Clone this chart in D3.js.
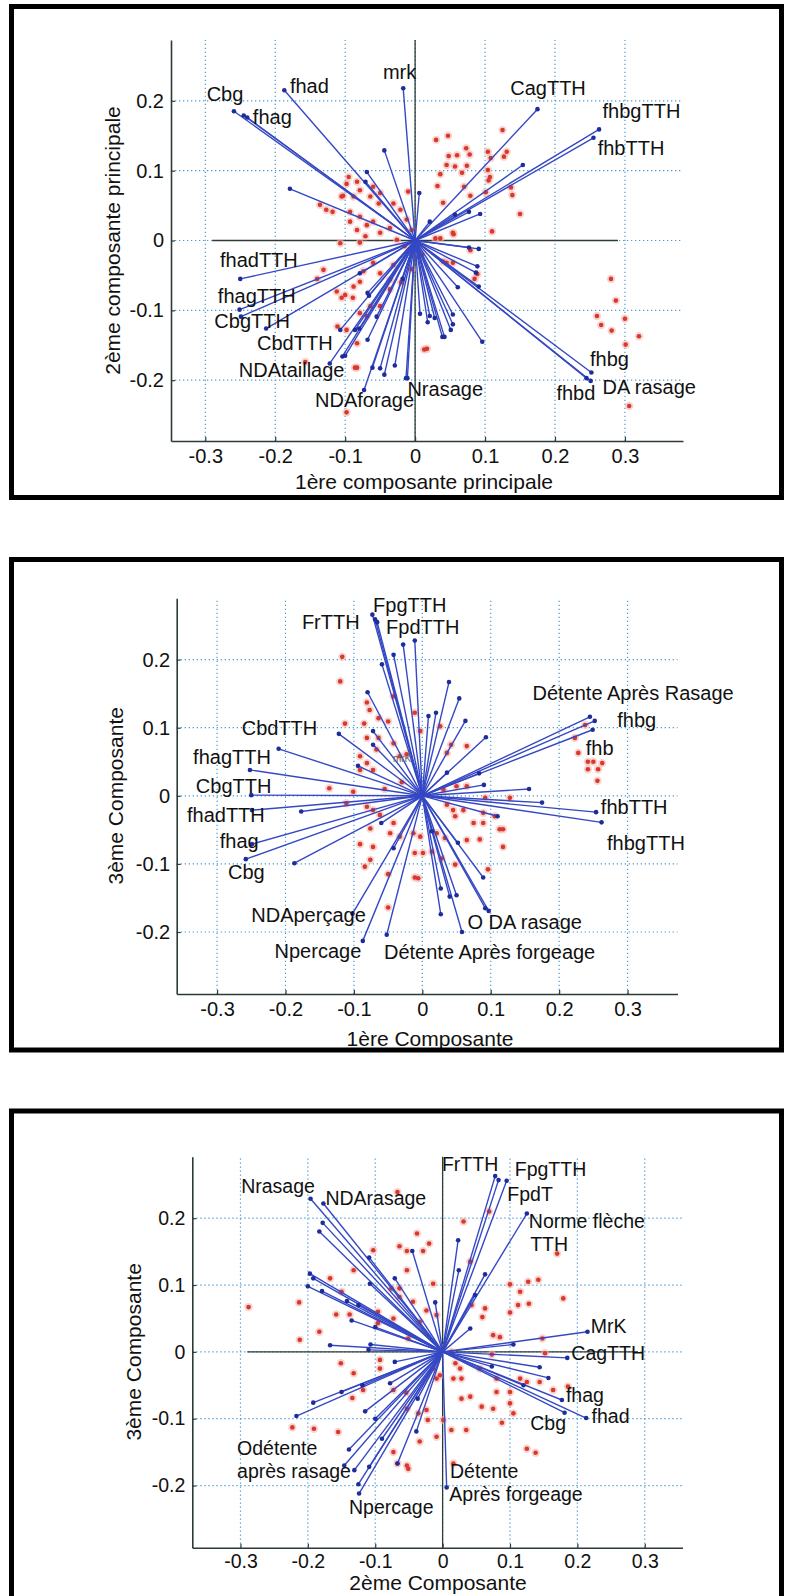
<!DOCTYPE html>
<html><head><meta charset="utf-8">
<script src="https://cdn.jsdelivr.net/npm/d3@7"></script>
<style>body{margin:0;background:#fff}svg{display:block}</style>
</head><body>
<svg id="c" width="786" height="1596"></svg>
<script>
// ---------- DATA ----------
const xTicks = [-0.3,-0.2,-0.1,0,0.1,0.2,0.3];
const yTicks = [-0.2,-0.1,0,0.1,0.2];

// Panel 1 : 1ère vs 2ème composante principale
const p1XLabel = "1ère composante principale";
const p1YLabel = "2ème composante principale";
const p1Vectors = [
[-0.259,0.185],[-0.245,0.179],[-0.240,0.176],[-0.187,0.215],[-0.017,0.218],[0.175,0.188],[0.263,0.159],[0.255,0.147],
[-0.044,0.129],[-0.069,0.098],[-0.071,0.084],[-0.179,0.074],[0.006,0.068],[0.093,0.038],[0.077,0.041],[0.154,0.108],[0.021,0.027],[0.057,0.037],
[-0.250,-0.055],[-0.251,-0.099],[-0.249,-0.109],[-0.213,-0.126],[-0.122,-0.176],[-0.073,-0.214],[-0.011,-0.197],
[0.252,-0.189],[0.245,-0.197],[0.251,-0.201],
[0.091,-0.012],[0.077,-0.010],[0.089,-0.037],[0.087,-0.046],[0.091,-0.066],[0.061,-0.067],[0.096,-0.145],[0.054,-0.106],[0.054,-0.120],[0.051,-0.128],[0.039,-0.138],[0.018,-0.117],[0.007,-0.105],[0.021,-0.108],[0.028,-0.111],[0.042,-0.138],
[-0.107,-0.128],[-0.104,-0.166],[-0.086,-0.128],[-0.080,-0.126],[-0.068,-0.142],[-0.068,-0.075],[-0.061,-0.182],[-0.050,-0.183],[-0.044,-0.192],[-0.029,-0.179],[-0.013,-0.197],[-0.066,-0.079],[-0.055,-0.109],[-0.100,-0.165],[-0.018,-0.055],[-0.079,-0.047]
];
const p1Points = [
[0.030,0.144],[0.047,0.150],[0.048,0.121],[0.060,0.122],[0.073,0.132],[0.078,0.123],[0.045,0.108],[0.057,0.106],[0.067,0.097],[0.074,0.107],[0.036,0.095],[0.032,0.078],[0.070,0.077],[0.040,0.054],[0.079,0.064],[0.104,0.127],[0.108,0.118],[0.125,0.158],[0.131,0.127],[0.127,0.120],[0.104,0.101],[0.107,0.091],[0.105,0.086],[0.101,0.069],[0.137,0.076],[0.139,0.065],[0.150,0.038],[0.110,0.013],[0.055,0.009],[0.036,0.003],
[-0.095,0.091],[-0.098,0.081],[-0.083,0.084],[-0.105,0.063],[-0.088,0.063],[-0.079,0.072],[-0.060,0.077],[-0.064,0.063],[-0.050,0.068],[-0.052,0.053],[-0.136,0.051],[-0.127,0.044],[-0.118,0.041],[-0.093,0.041],[-0.079,0.034],[-0.093,0.027],[-0.069,0.022],[-0.060,0.027],[-0.083,0.015],[-0.071,0.006],[-0.050,0.011],[-0.036,0.018],[-0.031,0.053],[-0.021,0.044],[-0.010,0.070],[-0.012,0.030],[-0.005,0.015],[-0.107,-0.004],[-0.079,-0.003],[-0.026,0.001],[-0.103,0.064],
[-0.131,-0.042],[-0.140,-0.055],[-0.105,-0.082],[-0.112,-0.073],[-0.088,-0.066],[-0.079,-0.059],[-0.074,-0.044],[-0.060,-0.032],[-0.050,-0.047],[-0.036,-0.056],[-0.031,-0.035],[-0.064,-0.094],[-0.050,-0.094],[-0.036,-0.070],[-0.098,-0.128],[-0.083,-0.147],[-0.083,-0.182],[-0.157,-0.174],[-0.098,-0.246],[-0.100,-0.078],[-0.089,-0.082],[-0.069,-0.108],[-0.111,-0.123],[-0.079,-0.104],[-0.005,-0.041],[-0.005,-0.018],[-0.086,-0.182],[-0.015,-0.008],[-0.020,-0.060],
[0.280,-0.055],[0.287,-0.086],[0.260,-0.108],[0.266,-0.121],[0.300,-0.112],[0.281,-0.129],[0.320,-0.137],[0.301,-0.149],[0.306,-0.237],[0.017,-0.155],[0.079,-0.014],[0.089,-0.048],[0.045,-0.032],[0.029,0.003],[0.054,0.011],[0.054,-0.032],[0.040,-0.030],[0.085,-0.055],[0.013,-0.156],[0.010,-0.020]
];
const p1Labels = [
["mrk",-0.046,0.231],["fhad",-0.179,0.211],["Cbg",-0.298,0.199],["fhag",-0.232,0.167],
["CagTTH",0.136,0.208],["fhbgTTH",0.268,0.175],["fhbTTH",0.261,0.123],
["fhadTTH",-0.279,-0.038],["fhagTTH",-0.282,-0.089],["CbgTTH",-0.287,-0.125],["CbdTTH",-0.226,-0.157],
["NDAtaillage",-0.252,-0.196],["NDAforage",-0.143,-0.238],["Nrasage",-0.011,-0.223],
["fhbg",0.250,-0.180],["fhbd",0.202,-0.229],["DA rasage",0.268,-0.220]
];

// Panel 2 : 1ère vs 3ème composante
const p2XLabel = "1ère Composante";
const p2YLabel = "3ème Composante";
const p2Vectors = [
[-0.073,0.266],[-0.069,0.259],[-0.066,0.255],[-0.011,0.228],[-0.028,0.222],[-0.042,0.207],[-0.059,0.193],[-0.080,0.152],
[0.039,0.167],[0.054,0.143],[0.063,0.110],[0.020,0.122],[0.009,0.117],[0.093,0.086],
[0.245,0.116],[0.252,0.110],[0.249,0.097],[0.083,0.033],[0.036,0.034],[0.156,0.010],[0.175,-0.010],[0.090,0.016],
[0.254,-0.024],[0.262,-0.039],
[-0.210,0.069],[-0.122,0.091],[-0.072,0.075],[-0.072,0.095],[-0.094,0.044],
[-0.252,0.038],[-0.250,0.001],[-0.249,-0.021],[-0.177,-0.023],
[-0.249,-0.071],[-0.258,-0.093],[-0.187,-0.099],
[-0.102,-0.173],[-0.087,-0.213],[-0.052,-0.204],
[0.058,-0.200],[0.097,-0.169],[0.092,-0.165],
[0.027,-0.174],[0.050,-0.146],[0.040,-0.148],[0.027,-0.136],[0.089,-0.120],[0.052,-0.069],[-0.042,-0.077],[0.014,-0.052],[-0.060,-0.040],[0.110,-0.030]
];
const p2Points = [
[-0.117,0.204],[-0.120,0.168],[-0.113,0.106],[-0.081,0.137],[-0.077,0.126],[-0.085,0.106],[-0.064,0.114],[-0.050,0.109],[-0.081,0.085],[-0.064,0.085],[-0.067,0.068],[-0.091,0.058],[-0.081,0.048],[-0.091,0.038],[-0.072,0.038],[-0.042,0.077],[-0.033,0.058],[-0.023,0.061],[0.026,0.102],[-0.003,0.095],[0.036,0.063],[0.065,0.073],[0.042,0.075],[0.050,0.014],[-0.042,0.146],[-0.011,0.122],
[-0.136,0.011],[-0.101,0.006],[-0.111,-0.011],[-0.081,-0.016],[-0.072,-0.021],[-0.062,-0.028],[-0.042,-0.040],[-0.076,-0.048],[-0.047,-0.055],[-0.033,-0.060],[-0.013,-0.055],[-0.003,-0.060],[-0.091,-0.071],[-0.072,-0.075],[-0.011,-0.084],[0.001,-0.084],[-0.076,-0.094],[-0.084,-0.104],[-0.050,-0.115],[-0.011,-0.120],[-0.006,-0.121],[-0.050,-0.164],[-0.008,-0.001],[-0.055,0.010],[-0.030,0.020],
[0.031,0.009],[0.065,0.014],[0.036,-0.013],[0.045,-0.021],[0.060,-0.021],[0.048,-0.030],[0.075,-0.040],[0.089,-0.025],[0.089,-0.040],[0.092,-0.003],[0.106,-0.030],[0.113,-0.049],[0.118,-0.049],[0.118,-0.075],[0.128,-0.003],[0.065,-0.065],[0.084,-0.064],[0.033,-0.062],[0.021,-0.055],[0.048,-0.101],[0.096,-0.108],[0.028,-0.092],[0.014,-0.082],
[0.223,0.085],[0.228,0.063],[0.242,0.050],[0.250,0.050],[0.242,0.039],[0.257,0.039],[0.263,0.048],[0.256,0.022],[0.238,0.104]
];
const p2Labels = [
["FrTTH",-0.176,0.245],["FpgTTH",-0.072,0.270],["FpdTTH",-0.053,0.237],
["Détente Après Rasage",0.161,0.140],["fhbg",0.285,0.101],["fhb",0.239,0.060],
["fhbTTH",0.261,-0.026],["fhbgTTH",0.270,-0.080],
["CbdTTH",-0.264,0.089],["fhagTTH",-0.335,0.046],["CbgTTH",-0.331,0.004],["fhadTTH",-0.344,-0.038],
["fhag",-0.296,-0.077],["Cbg",-0.284,-0.122],["NDAperçage",-0.250,-0.185],["Npercage",-0.216,-0.238],
["Détente Après forgeage",-0.056,-0.240],["O DA rasage",0.066,-0.196]
];
const p2SmallLabels = [["mrK",-0.043,0.050]];

// Panel 3 : 2ème vs 3ème composante
const p3XLabel = "2ème Composante";
const p3YLabel = "3ème Composante";
const p3Vectors = [
[-0.196,0.229],[-0.177,0.222],[-0.178,0.193],[-0.183,0.180],[-0.109,0.141],[-0.045,0.151],[-0.197,0.117],[-0.192,0.110],[-0.200,0.098],[-0.179,0.091],[-0.142,0.076],[-0.125,0.070],[-0.135,0.047],[-0.100,0.037],[-0.071,0.110],[-0.108,0.102],[-0.011,0.074],[-0.167,0.010],[-0.107,0.011],[-0.110,0.003],
[0.078,0.263],[0.083,0.257],[0.095,0.256],[0.125,0.207],[0.023,0.167],[0.024,0.122],[0.063,0.116],[0.048,0.085],[0.041,0.035],
[0.215,0.030],[0.105,0.011],[0.185,-0.009],[0.144,-0.023],[0.157,-0.039],[0.177,-0.072],[0.181,-0.091],[0.213,-0.099],[0.073,-0.022],[0.120,-0.050],
[0.006,-0.203],
[-0.124,-0.212],[-0.125,-0.198],[-0.109,-0.172],[-0.131,-0.177],[-0.139,-0.146],[-0.146,-0.170],[-0.067,-0.167],[-0.039,-0.119],[-0.037,-0.070],[-0.115,-0.089],[-0.100,-0.100],[-0.071,-0.015],[-0.078,-0.047],[-0.119,-0.050],
[-0.217,-0.096],[-0.192,-0.076],[-0.150,-0.060],[-0.090,-0.130]
];
const p3Points = [
[-0.288,0.067],[-0.213,0.074],[-0.212,0.018],[-0.183,0.030],[-0.223,-0.113],[-0.191,-0.115],[-0.155,-0.120],[-0.151,-0.017],[-0.132,-0.032],[-0.167,0.110],[-0.150,0.090],[-0.158,0.056],[-0.138,0.056],[-0.132,0.122],[-0.103,0.152],
[-0.067,0.239],[-0.038,0.177],[-0.020,0.162],[-0.064,0.158],[-0.053,0.151],[-0.029,0.151],[-0.053,0.122],[-0.064,0.095],[-0.064,0.082],[-0.076,0.095],[-0.014,0.102],[-0.024,0.062],[-0.009,0.055],[-0.096,0.060],[-0.096,0.043],[-0.073,0.050],[-0.044,0.075],[-0.034,0.045],[-0.051,0.020],
[0.069,0.210],[0.031,0.195],[0.041,0.135],[0.043,0.070],[0.059,0.052],[0.063,0.065],[0.100,0.101],[0.115,0.090],[0.127,0.105],[0.142,0.108],[0.179,0.080],[0.170,0.147],[0.112,0.070],[0.128,0.072],[0.100,0.059],[0.085,0.022],[0.075,0.025],[0.148,0.020],[0.152,-0.002],[0.073,-0.004],
[0.055,-0.025],[0.026,-0.025],[0.028,-0.040],[0.080,-0.040],[0.115,-0.040],[0.125,-0.045],[0.144,-0.045],[0.100,-0.060],[0.186,-0.052],[0.164,-0.057],[0.125,-0.145],[0.138,-0.151],[0.088,-0.106],[0.105,-0.092],[0.075,-0.085],[0.058,-0.082],[0.100,-0.077],[0.080,-0.060],[0.028,-0.070],[0.041,-0.067],[0.035,-0.117],[0.013,-0.117],[0.016,-0.167],
[-0.051,-0.175],[-0.053,-0.170],[-0.067,-0.167],[-0.009,-0.127],[0.001,-0.102],[-0.036,-0.092],[-0.024,-0.087],[-0.034,-0.134],[-0.022,-0.102],[-0.053,-0.085],[-0.054,-0.061],[-0.073,-0.057],[-0.093,-0.012],[-0.093,-0.025],[-0.118,-0.057],[-0.134,-0.069],[-0.073,-0.150],
[0.016,-0.040],[-0.004,-0.035],[-0.009,-0.040],[-0.014,-0.025],[0.013,0.000],[0.019,-0.017],[0.000,0.006]
];
const p3Labels = [
["FrTTH",-0.001,0.271],["FpgTTH",0.107,0.263],["FpdT",0.096,0.226],["Norme flèche",0.128,0.185],["TTH",0.130,0.151],
["Nrasage",-0.299,0.238],["NDArasage",-0.174,0.219],
["MrK",0.220,0.028],["CagTTH",0.191,-0.012],["fhag",0.183,-0.075],["fhad",0.221,-0.107],["Cbg",0.130,-0.117],
["Odétente",-0.305,-0.155],["après rasage",-0.305,-0.189],["Npercage",-0.139,-0.242],
["Détente",0.011,-0.189],["Après forgeage",0.010,-0.223]
];

// ---------- LAYOUT ----------
const FONT = "'Liberation Sans', Arial, Helvetica, sans-serif";
const panels = [
 {frameY:6.5, frameH:491, xDom:[-0.349,0.383], xRng:[171,683], yDom:[-0.287,0.287], yRng:[441,40],
  zero:true, fs:20, tickFs:20, xPad:7.5, yPad:7, xLab:p1XLabel, yLab:p1YLabel, xLabY:489, xLabX:424, yLabX:120,
  vec:p1Vectors, pts:p1Points, lab:p1Labels, small:[]},
 {frameY:559.5, frameH:490.5, xDom:[-0.359,0.373], xRng:[176.7,677.5], yDom:[-0.291,0.29], yRng:[994,598.3],
  zero:false, fs:20, tickFs:20, xPad:8, yPad:6.5, xLab:p2XLabel, yLab:p2YLabel, xLabY:1046, xLabX:430, yLabX:123,
  vec:p2Vectors, pts:p2Points, lab:p2Labels, small:p2SmallLabels},
 {frameY:1111, frameH:500, xDom:[-0.3715,0.356], xRng:[192.3,682.5], yDom:[-0.293,0.292], yRng:[1547.7,1156.7],
  zero:true, fs:19.5, tickFs:19.5, xPad:6, yPad:7, xLab:p3XLabel, yLab:p3YLabel, xLabY:1590, xLabX:438, yLabX:141,
  vec:p3Vectors, pts:p3Points, lab:p3Labels, small:[]}
];

const svg = d3.select("#c");
svg.append("rect").attr("width",786).attr("height",1596).attr("fill","#fff");

const fmt = d => d===0 ? "0" : String(d);

panels.forEach(p => {
  const g = svg.append("g");
  const x = d3.scaleLinear().domain(p.xDom).range(p.xRng);
  const y = d3.scaleLinear().domain(p.yDom).range(p.yRng);

  // grid
  const grid = g.append("g").attr("stroke","#4b9ad2").attr("stroke-width",1.2).attr("stroke-dasharray","1.3,2.7");
  grid.selectAll("line.gx").data(xTicks).join("line")
    .attr("x1",d=>x(d)).attr("x2",d=>x(d)).attr("y1",p.yRng[0]).attr("y2",p.yRng[1]);
  grid.selectAll("line.gy").data(yTicks).join("line")
    .attr("y1",d=>y(d)).attr("y2",d=>y(d)).attr("x1",p.xRng[0]).attr("x2",p.xRng[1]);

  // zero lines
  if (p.zero) {
    g.append("line").attr("x1",x(-0.29)).attr("x2",x(0.29)).attr("y1",y(0)).attr("y2",y(0))
      .attr("stroke","#2c3b36").attr("stroke-width",1.3);
    g.append("line").attr("x1",x(0)).attr("x2",x(0)).attr("y1",p.yRng[0]).attr("y2",p.yRng[1])
      .attr("stroke","#2c3b36").attr("stroke-width",1.3);
  }

  // axes
  const ax = g.append("g").attr("transform",`translate(0,${p.yRng[0]})`)
    .call(d3.axisBottom(x).tickValues(xTicks).tickFormat(fmt).tickSizeInner(-4).tickSizeOuter(0).tickPadding(p.xPad));
  const ay = g.append("g").attr("transform",`translate(${p.xRng[0]},0)`)
    .call(d3.axisLeft(y).tickValues(yTicks).tickFormat(fmt).tickSizeInner(-4).tickSizeOuter(0).tickPadding(p.yPad));
  [ax,ay].forEach(a => {
    a.attr("font-family",FONT).attr("font-size",p.tickFs);
    a.select(".domain").attr("stroke","#2c3b36").attr("stroke-width",1.6);
    a.selectAll(".tick line").attr("stroke","#2c3b36").attr("stroke-width",1.2);
    a.selectAll(".tick text").attr("fill","#111");
  });

  // points (observations)
  const pg = g.append("g");
  pg.selectAll("circle.h").data(p.pts).join("circle")
    .attr("cx",d=>x(d[0])).attr("cy",d=>y(d[1])).attr("r",4.2).attr("fill","#f3b9b1").attr("opacity",0.6);
  pg.selectAll("circle.c").data(p.pts).join("circle")
    .attr("cx",d=>x(d[0])).attr("cy",d=>y(d[1])).attr("r",2.3).attr("fill","#d8382e");

  // vectors
  const vg = g.append("g");
  vg.selectAll("line").data(p.vec).join("line")
    .attr("x1",x(0)).attr("y1",y(0)).attr("x2",d=>x(d[0])).attr("y2",d=>y(d[1]))
    .attr("stroke","#3548c4").attr("stroke-width",1.4);
  vg.selectAll("circle").data(p.vec).join("circle")
    .attr("cx",d=>x(d[0])).attr("cy",d=>y(d[1])).attr("r",2.3).attr("fill","#1d2d9c");

  // variable labels
  g.append("g").selectAll("text").data(p.lab).join("text")
    .attr("x",d=>x(d[1])).attr("y",d=>y(d[2])).text(d=>d[0])
    .attr("font-family",FONT).attr("font-size",p.fs).attr("fill","#111");
  g.append("g").selectAll("text").data(p.small).join("text")
    .attr("x",d=>x(d[1])).attr("y",d=>y(d[2])).text(d=>d[0])
    .attr("font-family",FONT).attr("font-size",10).attr("fill","#666");

  // axis titles
  g.append("text").attr("x",p.xLabX).attr("y",p.xLabY).attr("text-anchor","middle")
    .attr("font-family",FONT).attr("font-size",21).attr("fill","#111").text(p.xLab);
  g.append("text").attr("transform",`translate(${p.yLabX},${y(0)}) rotate(-90)`).attr("text-anchor","middle")
    .attr("font-family",FONT).attr("font-size",21).attr("fill","#111").text(p.yLab);

  // frame
  svg.append("rect").attr("x",11.5).attr("y",p.frameY).attr("width",770).attr("height",p.frameH)
    .attr("fill","none").attr("stroke","#000").attr("stroke-width",5);
});
</script>
</body></html>
